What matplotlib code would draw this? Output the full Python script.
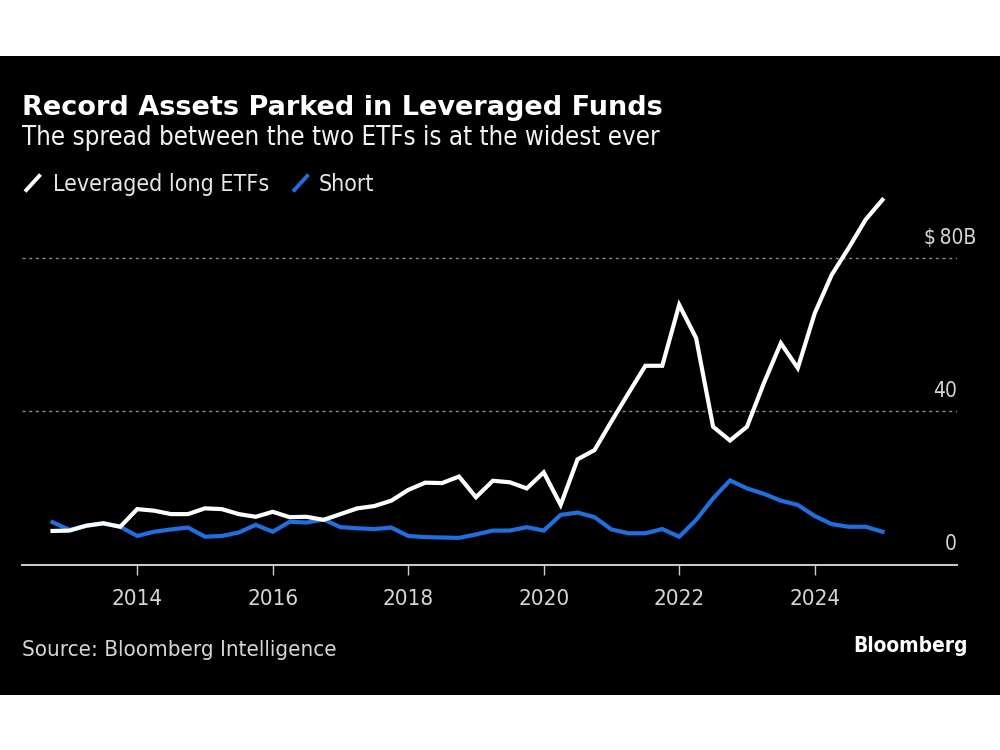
import numpy as np
import matplotlib
matplotlib.use('Agg')
import matplotlib.pyplot as plt
from matplotlib.lines import Line2D
from matplotlib.patches import Rectangle
import matplotlib.transforms as mtransforms

# ---------------- data ----------------
quarters = np.arange(2012.75, 2025.0 + 0.01, 0.25)   # quarter ends, Q3 2012 .. Q4 2024
long_etfs = [8.8, 8.9, 10.2, 10.8, 9.9, 14.5, 14.1, 13.2, 13.2, 14.7,
             14.5, 13.2, 12.5, 13.8, 12.4, 12.5, 11.7, 13.2, 14.7, 15.3,
             16.7, 19.5, 21.4, 21.3, 23.0, 17.6, 21.9, 21.5, 19.9, 24.1,
             15.6, 27.5, 29.9, 37.4, 44.7, 51.9, 51.9, 67.8, 59.1, 36.0,
             32.4, 36.0, 47.4, 57.8, 51.3, 65.6, 75.6, 82.6, 90.0, 95.2]
short_etfs = [11.1, 9.1, 10.1, 10.8, 9.9, 7.5, 8.6, 9.2, 9.7, 7.3,
              7.5, 8.4, 10.4, 8.6, 11.2, 11.0, 11.8, 9.8, 9.5, 9.3,
              9.7, 7.5, 7.2, 7.1, 7.0, 7.9, 8.9, 8.9, 9.8, 8.9,
              13.0, 13.6, 12.4, 9.2, 8.2, 8.2, 9.3, 7.3, 11.7, 17.3,
              22.0, 19.9, 18.5, 16.7, 15.6, 12.7, 10.6, 9.9, 9.9, 8.6]
year_ticks = [2014, 2016, 2018, 2020, 2022, 2024]
year_labels = ['2014', '2016', '2018', '2020', '2022', '2024']
y_ticks = [0, 40, 80]
y_labels = ['0', '40', '$\u200980B']
series_names = ['Leveraged long ETFs', 'Short']
title = 'Record Assets Parked in Leveraged Funds'
subtitle = 'The spread between the two ETFs is at the widest ever'
source = 'Source: Bloomberg Intelligence'
brand = 'Bloomberg'

WHITE = '#ffffff'
BLUE = '#1f6fde'
GRID = '#8c8c8c'
AXIS = '#cfcfcf'
LABEL = '#d6d6d6'
FAM = ['DejaVu Sans']
COND = dict(family=FAM, fontstretch='condensed')

W, H = 1000, 750
fig = plt.figure(figsize=(10, 7.5), dpi=100, facecolor='white')


def fx(px):
    return px / W


def fy(py):
    return 1 - py / H


# black panel
fig.patches.append(Rectangle((0, fy(695)), 1, fy(55.7) - fy(695), transform=fig.transFigure,
                             facecolor='black', edgecolor='none', zorder=-5))

ax = fig.add_axes([fx(22), fy(564.7), fx(957) - fx(22), fy(190) - fy(564.7)])
ax.set_zorder(2)
ax.set_facecolor('none')
ax.set_xlim(2012.30, 2026.10)
ax.set_ylim(0, 97.76)

for v in y_ticks[1:]:
    ax.axhline(v, color=GRID, lw=1.0, ls=(0, (2.2, 2.6)), zorder=1)

ax.plot(quarters, short_etfs, color=BLUE, lw=3.0, solid_joinstyle='miter', zorder=3)
ax.plot(quarters, long_etfs, color=WHITE, lw=3.0, solid_joinstyle='miter', zorder=4)

for s in ['top', 'left', 'right']:
    ax.spines[s].set_visible(False)
ax.spines['bottom'].set_color(AXIS)
ax.spines['bottom'].set_linewidth(1.4)
ax.set_yticks([])
ax.set_xticks(year_ticks)
ax.set_xticklabels(year_labels)
ax.tick_params(axis='x', direction='out', length=7.2, width=1.0, color=AXIS, pad=10,
               labelcolor=LABEL, labelsize=16)
for lab in ax.get_xticklabels():
    lab.set_fontfamily(FAM)
    lab.set_fontstretch('condensed')

# y labels sitting above the gridlines at the right
trans = mtransforms.blended_transform_factory(fig.transFigure, ax.transData)
off = mtransforms.ScaledTranslation(0, 0.145, fig.dpi_scale_trans)
right_edges = [957, 957, 976]
for v, lab, xr in zip(y_ticks, y_labels, right_edges):
    fig.text(fx(xr), v, lab, transform=trans + off, ha='right', va='baseline',
             color=LABEL, fontsize=15, **COND)

renderer = fig.canvas.get_renderer()


def fit_text(x0, x1, ybase, s, size, **kw):
    t = fig.text(fx(x0), fy(ybase), s, fontsize=size, ha='left', va='baseline', **kw)
    bb = t.get_window_extent(renderer=renderer)
    t.set_fontsize(size * (x1 - x0) / bb.width)
    return t


fit_text(22, 663, 115, title, 20, color=WHITE, fontweight='bold', family=FAM)
fit_text(22, 657, 145, subtitle, 17, color='#f2f2f2', **COND)
fit_text(53, 270, 191, series_names[0], 16, color='#e6e6e6', **COND)
fit_text(319, 375, 191, series_names[1], 16, color='#e6e6e6', **COND)
fit_text(22, 338, 656.5, source, 16, color=LABEL, **COND)
fit_text(853, 968, 652.5, brand, 15, color=WHITE, fontweight='bold', **COND)

# legend slashes
fig.lines.append(Line2D([fx(25), fx(40.5)], [fy(191.5), fy(174.5)], transform=fig.transFigure,
                        color=WHITE, lw=2.8, solid_capstyle='butt'))
fig.lines.append(Line2D([fx(293), fx(308.5)], [fy(191.5), fy(174.5)], transform=fig.transFigure,
                        color=BLUE, lw=2.8, solid_capstyle='butt'))

fig.savefig('out.png', dpi=100, facecolor='white')
